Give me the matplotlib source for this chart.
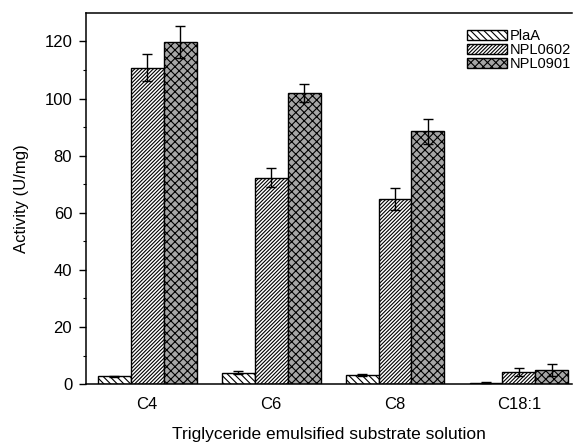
import numpy as np
import matplotlib.pyplot as plt

plt.rcParams['font.family'] = ['Liberation Sans', 'DejaVu Sans']
plt.rcParams['hatch.linewidth'] = 0.8

substrates = ['C4', 'C6', 'C8', 'C18:1']
plaa = [2.7, 4.0, 3.3, 0.5]
plaa_err = [0.2, 0.5, 0.3, 0.2]
npl0602 = [110.8, 72.3, 64.9, 4.3]
npl0602_err = [4.7, 3.3, 3.9, 1.4]
npl0901 = [119.8, 101.9, 88.5, 4.9]
npl0901_err = [5.6, 3.2, 4.3, 2.2]

x = np.arange(1, len(substrates) + 1)
w = 0.266

fig = plt.figure(figsize=(5.74, 4.43), dpi=100)
ax = fig.add_axes([0.150, 0.133, 0.847, 0.838])

ekw = dict(ecolor='black', elinewidth=1.0, capthick=1.0)
ax.bar(x - w, plaa, w, yerr=plaa_err, capsize=3.5, error_kw=ekw,
       facecolor='white', edgecolor='black', linewidth=1.0, hatch='\\' * 5, label='PlaA')
ax.bar(x, npl0602, w, yerr=npl0602_err, capsize=3.5, error_kw=ekw,
       facecolor='white', edgecolor='black', linewidth=1.0, hatch='/' * 9, label='NPL0602')
ax.bar(x + w, npl0901, w, yerr=npl0901_err, capsize=3.5, error_kw=ekw,
       facecolor='#a6a6a6', edgecolor='black', linewidth=1.0, hatch='xxxx', label='NPL0901')

ax.set_xlim(0.508, 4.43)
ax.set_ylim(0, 130)
ax.set_xticks(x)
ax.set_xticklabels(substrates, fontsize=12)
ax.set_yticks(np.arange(0, 121, 20))
ax.set_yticks(np.arange(10, 121, 20), minor=True)
ax.tick_params(axis='y', labelsize=12, length=5, width=1.0, pad=5)
ax.tick_params(axis='y', which='minor', length=2.5, width=0.8)
ax.tick_params(axis='x', length=0, pad=9)

ax.spines['right'].set_visible(False)
for s in ['left', 'top', 'bottom']:
    ax.spines[s].set_linewidth(1.1)

ax.set_xlabel('Triglyceride emulsified substrate solution', fontsize=12.5, labelpad=11)
ax.set_ylabel('Activity (U/mg)', fontsize=12, labelpad=11)

ax.legend(loc='upper right', bbox_to_anchor=(1.012, 0.975), frameon=False, fontsize=10.5,
          handlelength=2.7, handleheight=0.65, handletextpad=0.2, labelspacing=0.0,
          borderaxespad=0.1)

fig.savefig('out.png', dpi=100)
